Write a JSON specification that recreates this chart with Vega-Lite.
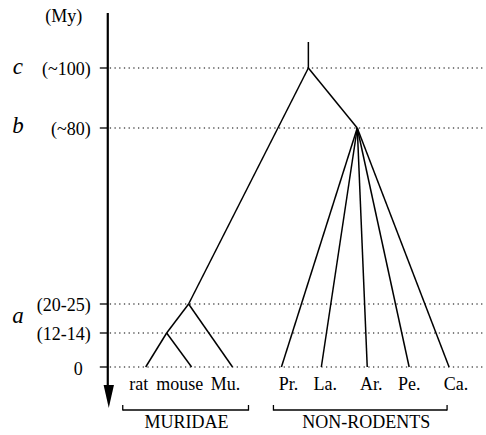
{
  "$schema": "https://vega.github.io/schema/vega-lite/v6.json",
  "width": 486,
  "height": 435,
  "padding": 0,
  "autosize": {"type": "fit", "contains": "padding"},
  "background": "white",
  "config": {"view": {"stroke": null}},
  "datasets": {
    "levels": [
      {"y": 68, "lab": "(~100)"},
      {"y": 128, "lab": "(~80)"},
      {"y": 304, "lab": "(20-25)"},
      {"y": 333, "lab": "(12-14)"},
      {"y": 367, "lab": "0"}
    ],
    "letters": [
      {"t": "c", "y": 74},
      {"t": "b", "y": 133},
      {"t": "a", "y": 323}
    ],
    "edges": [
      {"x": 309, "y": 42, "x2": 309, "y2": 68},
      {"x": 309, "y": 68, "x2": 189, "y2": 304},
      {"x": 309, "y": 68, "x2": 358, "y2": 128},
      {"x": 189, "y": 304, "x2": 167, "y2": 333},
      {"x": 189, "y": 304, "x2": 233, "y2": 367},
      {"x": 167, "y": 333, "x2": 146, "y2": 367},
      {"x": 167, "y": 333, "x2": 192, "y2": 367},
      {"x": 358, "y": 128, "x2": 282, "y2": 367},
      {"x": 358, "y": 128, "x2": 322, "y2": 367},
      {"x": 358, "y": 128, "x2": 368, "y2": 367},
      {"x": 358, "y": 128, "x2": 410, "y2": 367},
      {"x": 358, "y": 128, "x2": 450, "y2": 367}
    ],
    "leaves": [
      {"name": "rat", "x": 139},
      {"name": "mouse", "x": 180},
      {"name": "Mu.", "x": 226},
      {"name": "Pr.", "x": 289},
      {"name": "La.", "x": 326},
      {"name": "Ar.", "x": 372},
      {"name": "Pe.", "x": 410},
      {"name": "Ca.", "x": 457}
    ],
    "groups": [
      {"name": "MURIDAE", "x1": 123, "x2": 249, "xm": 187},
      {"name": "NON-RODENTS", "x1": 274, "x2": 448, "xm": 367}
    ]
  },
  "layer": [
    {
      "data": {"name": "levels"},
      "mark": {"type": "rule", "color": "black", "strokeWidth": 1.2, "strokeDash": [1.3, 3.4]},
      "encoding": {
        "x": {"datum": 110, "type": "quantitative", "scale": {"domain": [0, 486], "nice": false, "zero": false}, "axis": null},
        "x2": {"datum": 486},
        "y": {"field": "y", "type": "quantitative", "scale": {"domain": [0, 435], "nice": false, "zero": false, "reverse": true}, "axis": null}
      }
    },
    {
      "data": {"name": "levels"},
      "mark": {"type": "rule", "color": "black", "strokeWidth": 1.3},
      "encoding": {
        "x": {"datum": 100, "type": "quantitative"},
        "x2": {"datum": 108},
        "y": {"field": "y", "type": "quantitative"}
      }
    },
    {
      "data": {"name": "levels"},
      "transform": [{"filter": "datum.lab != '0'"}],
      "mark": {"type": "text", "align": "right", "baseline": "alphabetic", "dy": 7, "font": "Liberation Serif", "fontSize": 18, "color": "black"},
      "encoding": {
        "x": {"datum": 91, "type": "quantitative"},
        "y": {"field": "y", "type": "quantitative"},
        "text": {"field": "lab"}
      }
    },
    {
      "data": {"name": "levels"},
      "transform": [{"filter": "datum.lab == '0'"}],
      "mark": {"type": "text", "align": "right", "baseline": "alphabetic", "dy": 8, "font": "Liberation Serif", "fontSize": 18, "color": "black"},
      "encoding": {
        "x": {"datum": 83, "type": "quantitative"},
        "y": {"field": "y", "type": "quantitative"},
        "text": {"field": "lab"}
      }
    },
    {
      "data": {"values": [{"t": "(My)"}]},
      "mark": {"type": "text", "align": "center", "baseline": "alphabetic", "font": "Liberation Serif", "fontSize": 18, "color": "black"},
      "encoding": {
        "x": {"datum": 64, "type": "quantitative"},
        "y": {"datum": 22, "type": "quantitative"},
        "text": {"field": "t"}
      }
    },
    {
      "data": {"name": "letters"},
      "mark": {"type": "text", "align": "center", "baseline": "alphabetic", "font": "Liberation Serif", "fontStyle": "italic", "fontSize": 23, "color": "black"},
      "encoding": {
        "x": {"datum": 18, "type": "quantitative"},
        "y": {"field": "y", "type": "quantitative"},
        "text": {"field": "t"}
      }
    },
    {
      "data": {"values": [{"k": "axis"}]},
      "mark": {"type": "rule", "color": "black", "strokeWidth": 2.2},
      "encoding": {
        "x": {"datum": 108, "type": "quantitative"},
        "y": {"datum": 13, "type": "quantitative"},
        "y2": {"datum": 392}
      }
    },
    {
      "data": {"values": [{"k": "arrow"}]},
      "mark": {"type": "point", "shape": "M-0.45,-1L0.45,-1L0,1Z", "filled": true, "color": "black", "opacity": 1, "size": 529},
      "encoding": {
        "x": {"datum": 109, "type": "quantitative"},
        "y": {"datum": 396.5, "type": "quantitative"}
      }
    },
    {
      "data": {"name": "edges"},
      "mark": {"type": "rule", "color": "black", "strokeWidth": 1.5},
      "encoding": {
        "x": {"field": "x", "type": "quantitative"},
        "y": {"field": "y", "type": "quantitative"},
        "x2": {"field": "x2"},
        "y2": {"field": "y2"}
      }
    },
    {
      "data": {"name": "leaves"},
      "mark": {"type": "text", "align": "center", "baseline": "alphabetic", "font": "Liberation Serif", "fontSize": 18, "color": "black"},
      "encoding": {
        "x": {"field": "x", "type": "quantitative"},
        "y": {"datum": 390, "type": "quantitative"},
        "text": {"field": "name"}
      }
    },
    {
      "data": {"name": "groups"},
      "mark": {"type": "rule", "color": "black", "strokeWidth": 1.3},
      "encoding": {
        "x": {"field": "x1", "type": "quantitative"},
        "x2": {"field": "x2"},
        "y": {"datum": 410, "type": "quantitative"}
      }
    },
    {
      "data": {"name": "groups"},
      "mark": {"type": "rule", "color": "black", "strokeWidth": 1.3},
      "encoding": {
        "x": {"field": "x1", "type": "quantitative"},
        "y": {"datum": 405, "type": "quantitative"},
        "y2": {"datum": 410.6}
      }
    },
    {
      "data": {"name": "groups"},
      "mark": {"type": "rule", "color": "black", "strokeWidth": 1.3},
      "encoding": {
        "x": {"field": "x2", "type": "quantitative"},
        "y": {"datum": 405, "type": "quantitative"},
        "y2": {"datum": 410.6}
      }
    },
    {
      "data": {"name": "groups"},
      "mark": {"type": "text", "align": "center", "baseline": "alphabetic", "font": "Liberation Serif", "fontSize": 18, "color": "black"},
      "encoding": {
        "x": {"field": "xm", "type": "quantitative"},
        "y": {"datum": 428, "type": "quantitative"},
        "text": {"field": "name"}
      }
    }
  ]
}
